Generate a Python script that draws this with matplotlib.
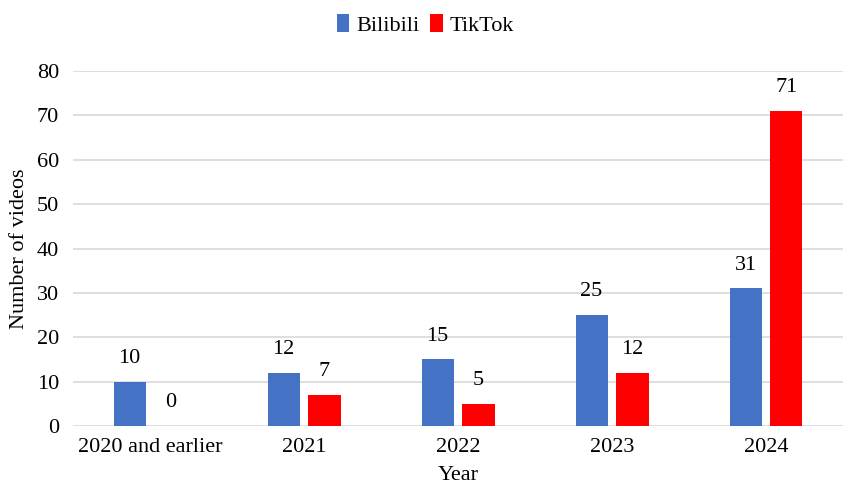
import matplotlib
matplotlib.use("Agg")
import matplotlib.pyplot as plt
import numpy as np

categories = ["2020 and earlier", "2021", "2022", "2023", "2024"]
bilibili = [10, 12, 15, 25, 31]
tiktok = [0, 7, 5, 12, 71]

plt.rcParams['font.family'] = ['Liberation Serif', 'DejaVu Serif']
FS = 16

fig = plt.figure(figsize=(8.51, 4.97), dpi=100)
ax = fig.add_axes([0.0858, 0.1429, 0.9048, 0.7141])

x = np.arange(len(categories))
w = 0.208
off = 0.133
b1 = ax.bar(x - off, bilibili, w, color='#4472C4', label='Bilibili', zorder=3)
b2 = ax.bar(x + off, tiktok, w, color='#FF0000', label='TikTok', zorder=3)

for bars, vals in ((b1, bilibili), (b2, tiktok)):
    for r, v in zip(bars, vals):
        ax.annotate(str(v), (r.get_x() + r.get_width() / 2, v),
                    xytext=(0, 10), textcoords='offset points',
                    ha='center', va='bottom', fontsize=FS)

ax.set_xlim(-0.5, len(categories) - 0.5)
ax.set_ylim(0, 80)
ax.set_yticks(range(0, 81, 10))
ax.set_xticks(x)
ax.set_xticklabels(categories)
ax.tick_params(axis='both', length=0, labelsize=FS)
ax.tick_params(axis='x', pad=9)
ax.tick_params(axis='y', pad=10)
ax.yaxis.grid(True, color='#D9D9D9', linewidth=1.2, zorder=0)
for s in ax.spines.values():
    s.set_visible(False)
ax.set_xlabel('Year', fontsize=FS, labelpad=6)
ax.set_ylabel('Number of videos', fontsize=FS, labelpad=6)

fig.legend(handles=[b1, b2], loc='upper center', bbox_to_anchor=(0.5, 1.012),
           ncol=2, frameon=False, fontsize=FS, handlelength=0.55, handleheight=0.9,
           handletextpad=0.3, columnspacing=0.5)

fig.savefig('out.png', dpi=100)
